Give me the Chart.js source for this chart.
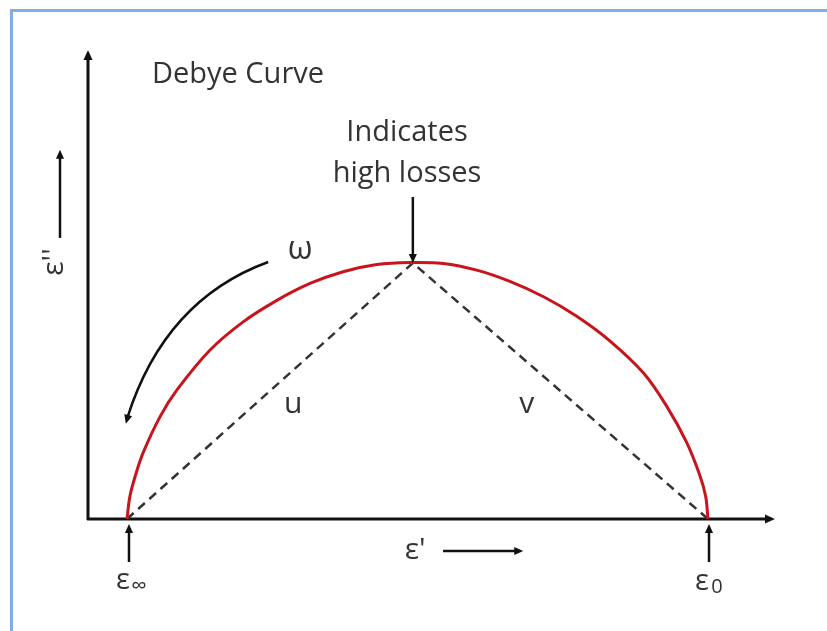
<!DOCTYPE html>
<html>
<head>
<meta charset="utf-8">
<script src="https://cdn.jsdelivr.net/npm/chart.js@4"></script>
<style>
  html, body { margin: 0; padding: 0; background: #fff; }
  #wrap { position: relative; width: 827px; height: 631px; overflow: hidden; }
  #frame { position: absolute; left: 10px; top: 9px; width: 840px; height: 640px;
           border-top: 3px solid #80aee3; border-left: 3px solid #80aee3; box-sizing: border-box; }
  canvas { position: absolute; left: 0; top: 0; }
</style>
</head>
<body>
<div id="wrap">
  <div id="frame"></div>
  <canvas id="debye" width="827" height="631"></canvas>
</div>
<script>
// Debye curve, eps' vs eps''
const epsReal = [2.0, 2.05, 2.14, 2.28, 2.57, 2.86, 3.43, 4.0, 4.58, 5.15, 5.72, 6.3, 6.87,
                 7.44, 8.02, 8.59, 9.17, 9.74, 10.31, 10.89, 11.29, 11.63, 11.86, 11.96, 12.0]
const epsImag = [0, 0.44, 0.83, 1.3, 2.0, 2.52, 3.3, 3.85, 4.27, 4.6, 4.83, 4.97, 5.01,
                 4.99, 4.86, 4.64, 4.34, 3.96, 3.48, 2.85, 2.2, 1.5, 0.85, 0.44, 0]
// dashed u / v lines: eps_inf -> peak -> eps_0
const chordX = [2, 6.92, 12]
const chordY = [0, 5.0, 0]
const epsInf = 2
const eps0 = 12

const curve = epsReal.map((v, i) => ({x: v, y: epsImag[i]}))
const chords = chordX.map((v, i) => ({x: v, y: chordY[i]}))

const font = '"Open Sans", sans-serif'
const ink = '#111'
const txt = '#333'

function arrow(ctx, x1, y1, x2, y2, w, head) {
    ctx.save()
    ctx.strokeStyle = ink
    ctx.fillStyle = ink
    ctx.lineWidth = w
    const a = Math.atan2(y2 - y1, x2 - x1)
    ctx.beginPath()
    ctx.moveTo(x1, y1)
    ctx.lineTo(x2 - Math.cos(a) * head * 0.8, y2 - Math.sin(a) * head * 0.8)
    ctx.stroke()
    ctx.beginPath()
    ctx.moveTo(x2, y2)
    ctx.lineTo(x2 - head * Math.cos(a) + head * 0.45 * Math.sin(a), y2 - head * Math.sin(a) - head * 0.45 * Math.cos(a))
    ctx.lineTo(x2 - head * Math.cos(a) - head * 0.45 * Math.sin(a), y2 - head * Math.sin(a) + head * 0.45 * Math.cos(a))
    ctx.closePath()
    ctx.fill()
    ctx.restore()
}

function label(ctx, s, x, y, size) {
    ctx.save()
    ctx.fillStyle = txt
    ctx.font = size + 'px ' + font
    ctx.textAlign = 'center'
    ctx.textBaseline = 'middle'
    ctx.fillText(s, x, y)
    ctx.restore()
}

const annotations = {
    id: 'annotations',
    beforeDatasetsDraw(chart) {
        const {ctx, chartArea: a} = chart
        // axes with arrow heads
        arrow(ctx, a.left, a.bottom + 1, a.left, a.top, 3, 10)
        arrow(ctx, a.left - 1, a.bottom, a.right, a.bottom, 3, 10)
    },
    afterDatasetsDraw(chart) {
        const {ctx, scales: {x, y}} = chart
        const px = v => x.getPixelForValue(v)
        const py = v => y.getPixelForValue(v)

        label(ctx, 'Debye Curve', px(3.91), py(8.67), 29)
        label(ctx, 'Indicates', px(6.82), py(7.54), 29)
        label(ctx, 'high losses', px(6.82), py(6.75), 29)
        arrow(ctx, px(6.92), py(6.29), px(6.92), py(5.0), 2.5, 9)

        // omega arrow
        const s = {x: px(4.43), y: py(5.02)}
        const c = {x: px(2.65), y: py(4.28)}
        const e = {x: px(1.98), y: py(1.86)}
        ctx.save()
        ctx.strokeStyle = ink
        ctx.lineWidth = 2.5
        ctx.beginPath()
        ctx.moveTo(s.x, s.y)
        ctx.quadraticCurveTo(c.x, c.y, e.x + 1.5, e.y - 6)
        ctx.stroke()
        ctx.restore()
        arrow(ctx, e.x + 2.5, e.y - 9, e.x, e.y, 2.5, 9)
        label(ctx, 'ω', px(4.98), py(5.25), 32)

        label(ctx, 'u', px(4.86), py(2.23), 30)
        label(ctx, 'v', px(8.88), py(2.23), 30)

        // eps' axis title
        label(ctx, "ε'", px(6.96), py(-0.62), 30)
        arrow(ctx, px(7.44), py(-0.625), px(8.82), py(-0.625), 2.5, 9)

        // eps'' axis title (rotated)
        ctx.save()
        ctx.translate(px(0.76), py(5.02))
        ctx.rotate(-Math.PI / 2)
        label(ctx, "ε''", 0, 0, 30)
        ctx.restore()
        arrow(ctx, px(0.847), py(5.49), px(0.847), py(7.21), 2.5, 9)

        // eps_inf and eps_0 markers
        arrow(ctx, px(epsInf) + 2, py(-0.84), px(epsInf) + 2, py(-0.1), 2.5, 9)
        arrow(ctx, px(eps0) + 1, py(-0.84), px(eps0) + 1, py(-0.1), 2.5, 9)
        label(ctx, 'ε', px(epsInf) - 4, py(-1.2), 29)
        label(ctx, '∞', px(epsInf) + 12, py(-1.32), 22)
        label(ctx, 'ε', px(eps0) - 6, py(-1.22), 29)
        label(ctx, '0', px(eps0) + 9, py(-1.33), 20)
    }
}

new Chart(document.getElementById('debye'), {
    type: 'scatter',
    data: {
        datasets: [{
            label: 'Debye curve',
            data: curve,
            showLine: true,
            borderColor: '#c8141c',
            borderWidth: 3,
            pointRadius: 0,
            tension: 0.35
        }, {
            label: 'u, v',
            data: chords,
            showLine: true,
            borderColor: '#333',
            borderWidth: 2.5,
            borderDash: [9, 6],
            pointRadius: 0,
            tension: 0
        }]
    },
    options: {
        responsive: false,
        animation: false,
        layout: { padding: { left: 88, right: 52, top: 50, bottom: 112 } },
        plugins: { legend: { display: false }, tooltip: { enabled: false } },
        scales: {
            x: { type: 'linear', display: false, min: 1.329, max: 13.153 },
            y: { type: 'linear', display: false, min: 0, max: 9.16 }
        }
    },
    plugins: [annotations]
})
</script>
</body>
</html>
